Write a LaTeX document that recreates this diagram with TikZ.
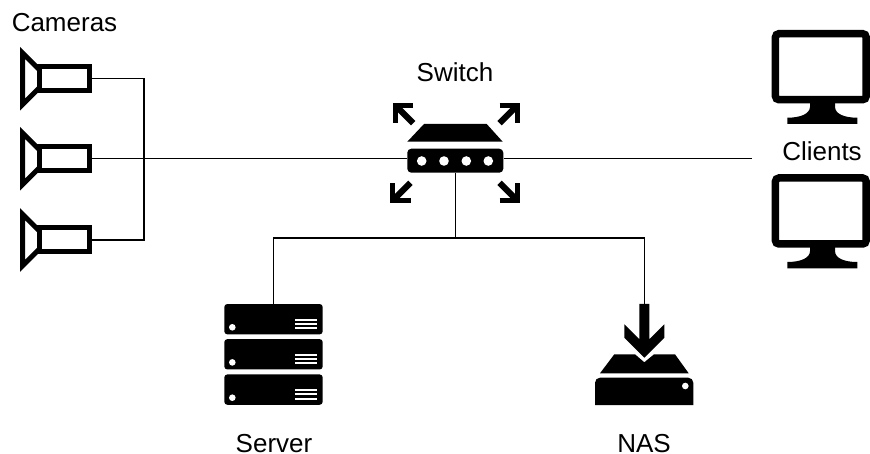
\documentclass[tikz,border=0pt]{standalone}
\usepackage{fontspec}
\setmainfont{Liberation Sans}
\tikzset{
  wire/.style={line width=1.5pt,black},
  label/.style={anchor=base,inner sep=0pt,font=\fontsize{26pt}{30pt}\selectfont},
  cambody/.style={draw,line width=5pt,minimum width=50pt,minimum height=24pt,inner sep=0pt,fill=white},
  horn/.style={draw,line width=5pt,miter limit=10,line join=miter},
  burst/.style={line width=5.2pt,black,line join=miter,miter limit=10},
  burstshaft/.style={line width=6.2pt,black},
  slab/.style={fill=black,rounded corners=3pt,minimum width=98.4pt,minimum height=30.3pt,inner sep=0pt},
  screen/.style={draw,line width=7.5pt,rounded corners=3.5pt,minimum width=90.7pt,minimum height=66pt,inner sep=0pt,fill=white},
  switchbox/.style={fill=black,rounded corners=4pt,minimum width=96pt,minimum height=24pt,inner sep=0pt},
}
\begin{document}
\begin{tikzpicture}[x=1pt,y=-1pt]
\useasboundingbox (0,0) rectangle (870,454);
\fill[white] (0,0) rectangle (870,454);
% named anchors
\node[cambody] (cam1) at (64.7,78.7) {};
\node[cambody] (cam2) at (64.7,158.7) {};
\node[cambody] (cam3) at (64.7,240) {};
\node[switchbox] (switch) at (455.3,160.7) {};
\node[slab] (server1) at (273.5,319.2) {};
\node[slab] (server2) at (273.5,354.3) {};
\node[slab] (server3) at (273.5,389.6) {};
\coordinate (nastop) at (644.3,304);
\coordinate (clientend) at (752,158.3);
\coordinate (bus) at (144,158.7);
\coordinate (split) at (455.3,238);
% connectors
\draw[wire] (cam1.east) -| (bus);
\draw[wire] (cam3.east) -| (bus);
\draw[wire] (cam2.east) -- (switch.west |- cam2.east);
\draw[wire] (switch.east |- clientend) -- (clientend);
\draw[wire] (switch.south) -- (split);
\draw[wire] (server1.north) |- (split) -| (nastop);
% camera horns
\foreach \n in {cam1,cam2,cam3}{
  \begin{scope}[shift={(\n.center)}]
    \draw[horn] (-26,-9.7) -- (-42.2,-25.9) -- (-42.2,25.9) -- (-26,9.7);
  \end{scope}
}
% switch
\fill (407.3,141.7) -- (424,124) -- (486.7,124) -- (502.7,141.7) -- cycle;
\foreach \i in {421.7,444,466.3,488.3}{\fill[white] (\i,161) circle (4.8pt);}
\foreach \tx/\ty/\sx/\sy in {392.7/102.7/1/1,520/102.7/-1/1,390/203.3/1/-1,520/203.3/-1/-1}{
  \begin{scope}[shift={(\tx,\ty)},xscale=\sx,yscale=\sy]
    \draw[burst] (20.5,2.6) -- (2.6,2.6) -- (2.6,20.5);
    \draw[burstshaft] (3.5,3.5) -- (20.5,20.5);
  \end{scope}
}
% server details
\foreach \n in {server1,server2,server3}{
  \begin{scope}[shift={(\n.center)}]
    \fill[white] (-41.2,8.1) circle (3.3pt);
    \foreach \d in {0.6,4.8,9}{\fill[white] (21.2,\d-1) rectangle (43.2,\d+1);}
  \end{scope}
}
% NAS
\fill (639.3,304) -- (649.3,304) -- (649.3,339.3) -- (664.3,324.3) -- (664.3,337.7) -- (644.3,357.7) -- (624.3,337.7) -- (624.3,324.3) -- (639.3,339.3) -- cycle;
\fill (600,373.3) -- (614.3,354.3) -- (635,354.3) -- (644.3,362.3) -- (654,354.3) -- (675,354.3) -- (688.7,373.3) -- cycle;
\fill (595,405) -- (595,382.7) arc[start angle=180,end angle=270,x radius=5pt,y radius=-5pt] -- (688.3,377.7) arc[start angle=270,end angle=360,x radius=5pt,y radius=-5pt] -- (693.3,405) -- cycle;
\fill[white] (685.3,386) circle (3.3pt);
% monitors
\node[screen] (client1) at (820.8,66.7) {};
\node[screen] (client2) at (820.8,211) {};
\foreach \n in {client1,client2}{
  \begin{scope}[shift={(\n.center)}]
    \fill (-10.8,36) -- (-10.8,40) .. controls (-10.8,47) and (-20,51) .. (-33.5,51) -- (-33.5,57.3) -- (36.5,57.3) -- (36.5,51) .. controls (23,51) and (14.2,47) .. (14.2,40) -- (14.2,36) -- cycle;
  \end{scope}
}
% labels
\node[label] (lcam) at (64.5,31.7) {Cameras};
\node[label] (lsw) at (455,81.7) {Switch};
\node[label] (lcl) at (822,161) {Clients};
\node[label] (lsrv) at (274,452) {Server};
\node[label] (lnas) at (644,452) {NAS};
\end{tikzpicture}
\end{document}
